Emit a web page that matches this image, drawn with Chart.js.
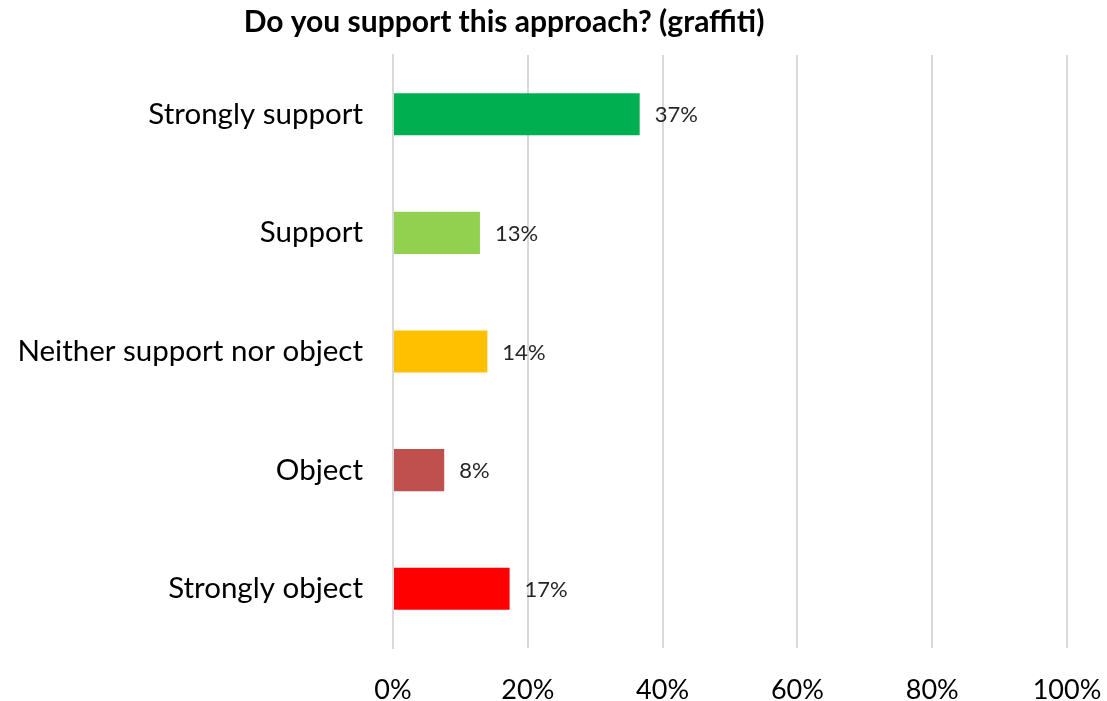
<!DOCTYPE html>
<html>
<head>
<meta charset="utf-8">
<script src="https://cdn.jsdelivr.net/npm/chart.js@4"></script>
<style>
  html, body { margin:0; padding:0; background:#fff; }
  #wrap { width:1107px; height:701px; }
</style>
</head>
<body>
<div id="wrap"><canvas id="chart"></canvas></div>
<script>
const categories = ['Strongly support', 'Support', 'Neither support nor object', 'Object', 'Strongly object'];
const values = [36.6, 12.9, 14.0, 7.6, 17.3];
const barColors = ['#00B050', '#92D050', '#FFC000', '#C0504D', '#FF0000'];
const xTicks = [0, 20, 40, 60, 80, 100];
const titleText = 'Do you support this approach? (graffiti)';

const FONT = 'Lato, "Open Sans", sans-serif';

// value labels to the right of each bar
const barLabels = {
  id: 'barLabels',
  afterDatasetsDraw(chart) {
    const ctx = chart.ctx;
    const meta = chart.getDatasetMeta(0);
    ctx.save();
    ctx.font = '22px ' + FONT;
    ctx.fillStyle = '#262626';
    ctx.textBaseline = 'middle';
    ctx.textAlign = 'left';
    meta.data.forEach((bar, i) => {
      ctx.fillText(Math.round(values[i]) + '%', bar.x + 15, bar.y + 1);
    });
    ctx.restore();
  }
};

// the title in the original sits left of canvas centre
const titleShift = {
  id: 'titleShift',
  afterLayout(chart) {
    if (chart.titleBlock) {
      chart.titleBlock.left = 0;
      chart.titleBlock.right = 1008;
    }
  }
};

new Chart(document.getElementById('chart'), {
  type: 'bar',
  data: {
    labels: categories,
    datasets: [{
      data: values,
      backgroundColor: barColors,
      borderWidth: 0,
      barPercentage: 0.355,
      categoryPercentage: 1
    }]
  },
  options: {
    indexAxis: 'y',
    responsive: true,
    maintainAspectRatio: false,
    animation: false,
    layout: {padding: {left: 0, right: 40, top: 4, bottom: 0}},
    plugins: {
      legend: {display: false},
      tooltip: {enabled: false},
      title: {
        display: true,
        text: titleText,
        color: '#000',
        font: {family: FONT, size: 30, weight: 'bold'},
        padding: {top: 0, bottom: 15}
      }
    },
    scales: {
      x: {
        min: 0, max: 100,
        afterBuildTicks(s) { s.ticks = xTicks.map(v => ({value: v})); },
        afterFit(s) { s.height = 53; s.paddingLeft = 0; s.paddingRight = 0; },
        ticks: {
          callback: v => v + '%',
          color: '#000',
          font: {family: FONT, size: 27},
          padding: 26
        },
        grid: {color: '#d9d9d9', lineWidth: 2, drawTicks: false},
        border: {display: false}
      },
      y: {
        afterFit(s) { s.width = 393; },
        ticks: {
          color: '#000',
          font: {family: FONT, size: 29.5},
          padding: 30
        },
        grid: {display: false, drawTicks: false},
        border: {color: '#d9d9d9', width: 2}
      }
    }
  },
  plugins: [barLabels, titleShift]
});
</script>
</body>
</html>
